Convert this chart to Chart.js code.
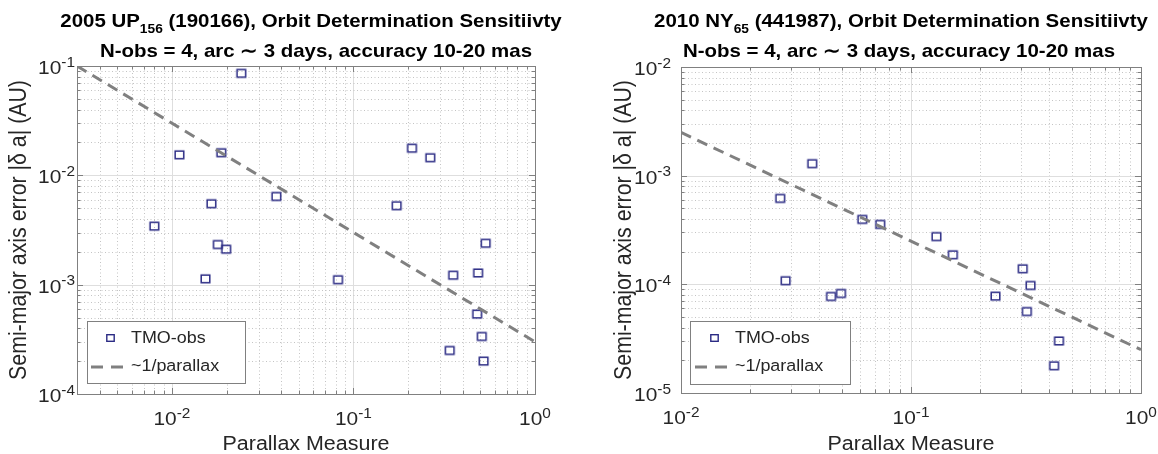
<!DOCTYPE html>
<html><head><meta charset="utf-8">
<script src="https://cdn.jsdelivr.net/npm/chart.js@4"></script>
<style>
body{margin:0;background:#fff;width:1158px;height:454px;overflow:hidden;}
.w{position:absolute;top:0;}
canvas{display:block;}
</style>
</head><body>
<div class="w" style="left:0"><canvas id="c1" width="580" height="454"></canvas></div>
<div class="w" style="left:580px"><canvas id="c2" width="578" height="454"></canvas></div>
<script>
// ---- data: 2005 UP156 (190166)
const up156_parallax = [0.0080, 0.0110, 0.0153, 0.0165, 0.0179, 0.0187, 0.0199, 0.0241, 0.0376, 0.0822, 0.173, 0.210, 0.265, 0.339, 0.354, 0.480, 0.486, 0.509, 0.521, 0.535];
const up156_error    = [0.00343, 0.0154, 0.00113, 0.00550, 0.00233, 0.0161, 0.00211, 0.0857, 0.00641, 0.00111, 0.00527, 0.0177, 0.0145, 0.000250, 0.00122, 0.000538, 0.00128, 0.000336, 0.000200, 0.00239];
const up156_fitX = [0.003, 1];
const up156_fitY = [0.1, 0.0003];
const up156_xTickExp = [-2, -1, 0];
const up156_yTickExp = [-4, -3, -2, -1];

// ---- data: 2010 NY65 (441987)
const ny65_parallax = [0.0270, 0.0285, 0.0372, 0.0449, 0.0496, 0.0614, 0.0735, 0.129, 0.152, 0.233, 0.306, 0.319, 0.331, 0.419, 0.440];
const ny65_error    = [0.000618, 0.000108, 0.00129, 0.0000773, 0.0000824, 0.000396, 0.000356, 0.000275, 0.000187, 0.0000778, 0.000139, 0.0000562, 0.0000976, 0.0000178, 0.0000301];
const ny65_fitX = [0.01, 1];
const ny65_fitY = [0.0025, 0.000025];
const ny65_xTickExp = [-2, -1, 0];
const ny65_yTickExp = [-5, -4, -3, -2];

const seriesLabels = ['TMO-obs', '~1/parallax'];
const xTitle = 'Parallax Measure';
const yTitle = 'Semi-major axis error |\u03B4 a| (AU)';
const subtitle = 'N-obs = 4, arc \u223C 3 days, accuracy 10-20 mas';

const FONT = '"Liberation Sans", Arial, Helvetica, sans-serif';
const TXT = '#262626';
const BOX = '#808080';
const MARK = '#2b2b84';
const SX = 1.1; // horizontal stretch of the reference figure

function markerCanvas(w, h, lw){
  const c = document.createElement('canvas');
  c.width = Math.ceil(w + lw + 2); c.height = Math.ceil(h + lw + 2);
  const g = c.getContext('2d');
  g.strokeStyle = MARK; g.lineWidth = lw;
  g.strokeRect((c.width - w) / 2, (c.height - h) / 2, w, h);
  return c;
}
const dataMarker = markerCanvas(8.6, 7.6, 1.5);
const legendMarker = markerCanvas(7.4, 6.6, 1.4);

function txt(ctx, s, x, y, font, align, base){
  ctx.save(); ctx.translate(x, y); ctx.scale(SX, 1);
  ctx.font = font; ctx.textAlign = align || 'left'; ctx.textBaseline = base || 'alphabetic';
  ctx.fillText(s, 0, 0); ctx.restore();
}
function tw(ctx, s, font){ ctx.font = font; return ctx.measureText(s).width * SX; }

function drawPow(ctx, exp, x, y, align){ // y = baseline of "10"
  const bf = '19px ' + FONT, ef = '14px ' + FONT;
  const e = (exp < 0 ? '-' : '') + Math.abs(exp);
  const w1 = tw(ctx, '10', bf), w2 = tw(ctx, e, ef);
  const sx = align === 'center' ? x - (w1 + w2) / 2 : x - (w1 + w2);
  ctx.fillStyle = TXT;
  txt(ctx, '10', sx, y, bf);
  txt(ctx, e, sx + w1, y - 7.5, ef);
}

function makePlugin(cfg){
  const forTicks = (sc, fn) => {
    const d0 = Math.floor(Math.log10(sc.min)), d1 = Math.ceil(Math.log10(sc.max));
    for (let d = d0; d <= d1; d++) for (let k = 1; k <= 9; k++) {
      const v = k * Math.pow(10, d);
      if (v < sc.min * 0.999 || v > sc.max * 1.001) continue;
      fn(Math.round(sc.getPixelForValue(v)) + 0.5, k === 1);
    }
  };
  return {
    id: 'matlabLook',
    beforeDatasetsDraw(chart){
      const {ctx, chartArea: a, scales: {x, y}} = chart;
      ctx.save();
      ctx.beginPath(); ctx.rect(a.left, a.top, a.right - a.left, a.bottom - a.top); ctx.clip();
      const line = (p, major, vertical) => {
        ctx.beginPath();
        if (major) { ctx.setLineDash([]); ctx.strokeStyle = '#dedede'; }
        else { ctx.setLineDash([1, 2.5]); ctx.strokeStyle = '#c4c4c4'; }
        ctx.lineWidth = 1;
        if (vertical) { ctx.moveTo(p, a.top); ctx.lineTo(p, a.bottom); }
        else { ctx.moveTo(a.left, p); ctx.lineTo(a.right, p); }
        ctx.stroke();
      };
      forTicks(x, (p, m) => line(p, m, true));
      forTicks(y, (p, m) => line(p, m, false));
      ctx.restore();
    },
    afterDatasetsDraw(chart){
      const {ctx, chartArea: a, scales: {x, y}} = chart;
      ctx.save();
      ctx.setLineDash([]); ctx.strokeStyle = BOX; ctx.lineWidth = 1;
      ctx.strokeRect(Math.round(a.left) + 0.5, Math.round(a.top) + 0.5, Math.round(a.right - a.left), Math.round(a.bottom - a.top));
      forTicks(x, (p, m) => { const L = m ? 6 : 3.5; ctx.beginPath();
        ctx.moveTo(p, a.bottom); ctx.lineTo(p, a.bottom - L); ctx.moveTo(p, a.top); ctx.lineTo(p, a.top + L); ctx.stroke(); });
      forTicks(y, (p, m) => { const L = m ? 6 : 3.5; ctx.beginPath();
        ctx.moveTo(a.left, p); ctx.lineTo(a.left + L, p); ctx.moveTo(a.right, p); ctx.lineTo(a.right - L, p); ctx.stroke(); });
      // tick labels
      cfg.xTicks.forEach(e => drawPow(ctx, e, x.getPixelForValue(Math.pow(10, e)), a.bottom + 31, 'center'));
      cfg.yTicks.forEach(e => drawPow(ctx, e, cfg.yTickRight, y.getPixelForValue(Math.pow(10, e)) + 8, 'right'));
      // axis titles
      ctx.fillStyle = TXT;
      txt(ctx, xTitle, (a.left + a.right) / 2, 450, '19.5px ' + FONT, 'center');
      ctx.save();
      ctx.translate(cfg.yTitleX, (a.top + a.bottom) / 2);
      ctx.scale(SX, 1);
      ctx.rotate(-Math.PI / 2);
      ctx.font = cfg.yTitleFont + 'px ' + FONT; ctx.textAlign = 'center'; ctx.textBaseline = 'alphabetic';
      ctx.fillText(yTitle, 0, 0);
      ctx.restore();
      // titles
      const bf = 'bold ' + cfg.titleFont + 'px ' + FONT, sf = 'bold 12.5px ' + FONT;
      const parts = [[cfg.title[0], bf, 0], [cfg.title[1], sf, 6], [cfg.title[2], bf, 0]];
      let total = 0;
      parts.forEach(p => { p.push(tw(ctx, p[0], p[1])); total += p[3]; });
      let tx = cfg.titleX[0] - total / 2;
      ctx.fillStyle = '#000';
      parts.forEach(p => { txt(ctx, p[0], tx, 27 + p[2], p[1]); tx += p[3]; });
      txt(ctx, subtitle, cfg.titleX[1], 57, bf, 'center');
      // legend
      const L = cfg.legend;
      ctx.fillStyle = '#fff'; ctx.fillRect(L.x, L.y, L.w, L.h);
      ctx.strokeStyle = BOX; ctx.lineWidth = 1; ctx.strokeRect(L.x + 0.5, L.y + 0.5, L.w, L.h);
      ctx.drawImage(legendMarker, Math.round(L.mx - legendMarker.width / 2), Math.round(L.y + 17 - legendMarker.height / 2));
      ctx.strokeStyle = '#808080'; ctx.lineWidth = 3; ctx.setLineDash([12, 8]);
      ctx.beginPath(); ctx.moveTo(L.l0, L.y + 46); ctx.lineTo(L.l1, L.y + 46); ctx.stroke();
      ctx.setLineDash([]);
      ctx.fillStyle = TXT;
      txt(ctx, seriesLabels[0], L.tx, L.y + 18, '16.3px ' + FONT, 'left', 'middle');
      txt(ctx, seriesLabels[1], L.tx, L.y + 46, '16.3px ' + FONT, 'left', 'middle');
      ctx.restore();
    }
  };
}

function build(id, px, ey, fx, fy, xr, yr, pad, cfg){
  return new Chart(document.getElementById(id), {
    data: {
      datasets: [
        { type: 'scatter', label: seriesLabels[0], order: 2,
          data: px.map((v, i) => ({x: v, y: ey[i]})),
          pointStyle: dataMarker, pointRadius: 5, pointHoverRadius: 5,
          borderColor: MARK, backgroundColor: 'rgba(0,0,0,0)', borderWidth: 1.5 },
        { type: 'line', label: seriesLabels[1], order: 1,
          data: fx.map((v, i) => ({x: v, y: fy[i]})),
          borderColor: '#808080', borderWidth: 3, borderDash: [11, 7],
          pointRadius: 0, fill: false, tension: 0 }
      ]
    },
    options: {
      responsive: false, animation: false, devicePixelRatio: 1,
      layout: { padding: pad },
      plugins: { legend: { display: false }, tooltip: { enabled: false }, title: { display: false } },
      scales: {
        x: { type: 'logarithmic', min: xr[0], max: xr[1], display: false },
        y: { type: 'logarithmic', min: yr[0], max: yr[1], display: false }
      }
    },
    plugins: [makePlugin(cfg)]
  });
}

build('c1', up156_parallax, up156_error, up156_fitX, up156_fitY, [0.003, 1], [1e-4, 1e-1],
  { left: 77, top: 66, right: 45, bottom: 60 },
  { xTicks: up156_xTickExp, yTicks: up156_yTickExp, yTickRight: 75, yTitleX: 26, yTitleFont: 21.3,
    title: ['2005 UP', '156', ' (190166), Orbit Determination Sensitiivty'], titleFont: 18.6, titleX: [311, 316],
    legend: { x: 87, y: 321, w: 158, h: 62, mx: 110, tx: 131, l0: 91, l1: 127 } });

build('c2', ny65_parallax, ny65_error, ny65_fitX, ny65_fitY, [0.01, 1], [1e-5, 1e-2],
  { left: 101, top: 67, right: 17, bottom: 61 },
  { xTicks: ny65_xTickExp, yTicks: ny65_yTickExp, yTickRight: 91, yTitleX: 51, yTitleFont: 21.3,
    title: ['2010 NY', '65', ' (441987), Orbit Determination Sensitiivty'], titleFont: 18.6, titleX: [321, 319],
    legend: { x: 110, y: 321, w: 160, h: 63, mx: 134, tx: 155, l0: 115, l1: 151 } });
</script>
</body></html>
